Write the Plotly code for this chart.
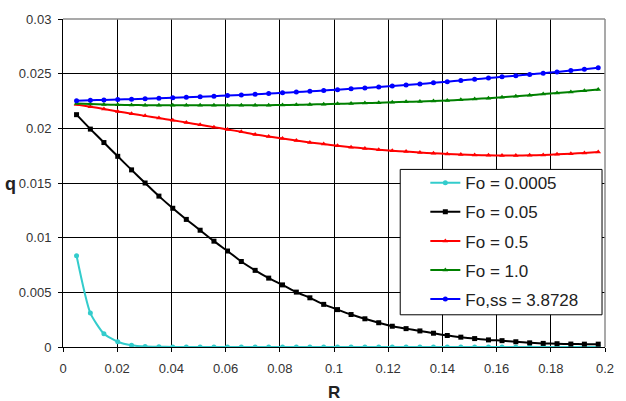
import plotly.graph_objects as go

R = [0.0050, 0.0101, 0.0151, 0.0202, 0.0253, 0.0303, 0.0354, 0.0405, 0.0455, 0.0506,
     0.0557, 0.0607, 0.0658, 0.0709, 0.0759, 0.0810, 0.0861, 0.0911, 0.0962, 0.1013,
     0.1063, 0.1114, 0.1165, 0.1215, 0.1266, 0.1317, 0.1367, 0.1418, 0.1468, 0.1519,
     0.1570, 0.1620, 0.1671, 0.1722, 0.1772, 0.1823, 0.1874, 0.1924, 0.1975]

q_fo_00005 = [0.00835, 0.00310, 0.00121, 0.00048, 0.00015, 0.00004, 0.00002, 0.00001, 0.0, 0.0,
              0.0, 0.0, 0.0, 0.0, 0.0, 0.0, 0.0, 0.0, 0.0, 0.0,
              0.0, 0.0, 0.0, 0.0, 0.0, 0.0, 0.0, 0.0, 0.0, 0.0,
              0.0, 0.0, 0.0, 0.0, 0.0, 0.0, 0.0, 0.0, 0.0]

q_fo_005 = [0.02125, 0.01993, 0.01870, 0.01744, 0.01620, 0.01500, 0.01380, 0.01269, 0.01167, 0.01068,
            0.00968, 0.00878, 0.00782, 0.00701, 0.00630, 0.00568, 0.00502, 0.00450, 0.00390, 0.00342,
            0.00297, 0.00258, 0.00222, 0.00190, 0.00168, 0.00147, 0.00126, 0.00105, 0.00090, 0.00077,
            0.00065, 0.00058, 0.00048, 0.00038, 0.00033, 0.00030, 0.00027, 0.00026, 0.00026]

q_fo_05 = [0.02218, 0.02198, 0.02177, 0.02155, 0.02134, 0.02114, 0.02094, 0.02074, 0.02053, 0.02032,
           0.02011, 0.01990, 0.01968, 0.01944, 0.01925, 0.01906, 0.01888, 0.01871, 0.01856, 0.01841,
           0.01828, 0.01816, 0.01805, 0.01795, 0.01787, 0.01779, 0.01772, 0.01766, 0.01761, 0.01757,
           0.01753, 0.01751, 0.01751, 0.01753, 0.01757, 0.01762, 0.01768, 0.01775, 0.01783]

q_fo_10 = [0.02228, 0.02222, 0.02218, 0.02215, 0.02213, 0.02212, 0.02211, 0.02210, 0.02210, 0.02210,
           0.02210, 0.02210, 0.02210, 0.02211, 0.02212, 0.02213, 0.02215, 0.02218, 0.02221, 0.02224,
           0.02227, 0.02231, 0.02234, 0.02238, 0.02242, 0.02246, 0.02250, 0.02255, 0.02261, 0.02268,
           0.02276, 0.02285, 0.02294, 0.02303, 0.02313, 0.02323, 0.02333, 0.02344, 0.02356]

q_fo_ss = [0.02252, 0.02256, 0.02260, 0.02263, 0.02267, 0.02271, 0.02275, 0.02279, 0.02284, 0.02289,
           0.02294, 0.02300, 0.02305, 0.02311, 0.02318, 0.02325, 0.02332, 0.02339, 0.02346, 0.02354,
           0.02362, 0.02370, 0.02379, 0.02388, 0.02397, 0.02406, 0.02416, 0.02427, 0.02438, 0.02449,
           0.02460, 0.02471, 0.02482, 0.02493, 0.02504, 0.02516, 0.02528, 0.02541, 0.02555]

series_names = ["Fo = 0.0005", "Fo = 0.05", "Fo = 0.5", "Fo = 1.0", "Fo,ss = 3.8728"]
series_values = [q_fo_00005, q_fo_005, q_fo_05, q_fo_10, q_fo_ss]
series_colors = ["#33CCCC", "#000000", "#FF0000", "#008000", "#0000FF"]
series_symbols = ["circle", "square", "triangle-up", "triangle-up", "circle"]

fig = go.Figure()
for name, vals, col, sym in zip(series_names, series_values, series_colors, series_symbols):
    fig.add_trace(go.Scatter(
        x=R, y=vals, name=name, mode="lines+markers",
        line=dict(color=col, width=2, shape="spline", smoothing=0.6),
        marker=dict(color=col, size=5, symbol=sym),
        legendgroup=name,
    ))

axis_font = dict(family="Arial, Liberation Sans, sans-serif", size=13, color="#333333")
fig.update_layout(
    width=626, height=401,
    margin=dict(l=63, r=17, t=14, b=54),
    paper_bgcolor="white", plot_bgcolor="white",
    showlegend=True,
    legend=dict(
        x=0.6685, y=0.5544, xanchor="left", yanchor="top",
        bgcolor="rgba(0,0,0,0)", borderwidth=0,
        font=dict(family="Arial, Liberation Sans, sans-serif", size=17, color="#222222"),
        tracegroupgap=4,
    ),
    xaxis=dict(
        range=[0, 0.2], dtick=0.02, tick0=0,
        showgrid=True, gridcolor="black", gridwidth=1,
        showline=True, linecolor="black", linewidth=1,
        ticks="outside", ticklen=4, tickcolor="black",
        tickfont=axis_font, zeroline=False, ticklabelstandoff=5,
    ),
    yaxis=dict(
        range=[0, 0.03], dtick=0.005, tick0=0,
        showgrid=True, gridcolor="black", gridwidth=1,
        showline=True, linecolor="black", linewidth=1,
        ticks="outside", ticklen=4, tickcolor="black",
        tickfont=axis_font, zeroline=False, ticklabelstandoff=4,
    ),
    shapes=[
        dict(type="line", xref="paper", yref="paper", x0=0, x1=1, y0=1, y1=1,
             line=dict(color="#8C8C8C", width=1.5), layer="above"),
        dict(type="line", xref="paper", yref="paper", x0=1, x1=1, y0=0, y1=1,
             line=dict(color="#8C8C8C", width=1.5), layer="above"),
        dict(type="rect", xref="paper", yref="paper", x0=0.6222, x1=0.9945, y0=0.0982, y1=0.5414,
             fillcolor="white", line=dict(color="black", width=1), layer="above"),
    ],
    annotations=[
        dict(text="<b>q</b>", xref="paper", yref="paper", x=-0.096, y=0.496,
             xanchor="center", yanchor="middle", showarrow=False,
             font=dict(family="Arial, Liberation Sans, sans-serif", size=18, color="#222222")),
        dict(text="<b>R</b>", xref="paper", yref="paper", x=0.5, y=-0.138,
             xanchor="center", yanchor="middle", showarrow=False,
             font=dict(family="Arial, Liberation Sans, sans-serif", size=17, color="#222222")),
    ],
)

fig.write_html("out.html")
